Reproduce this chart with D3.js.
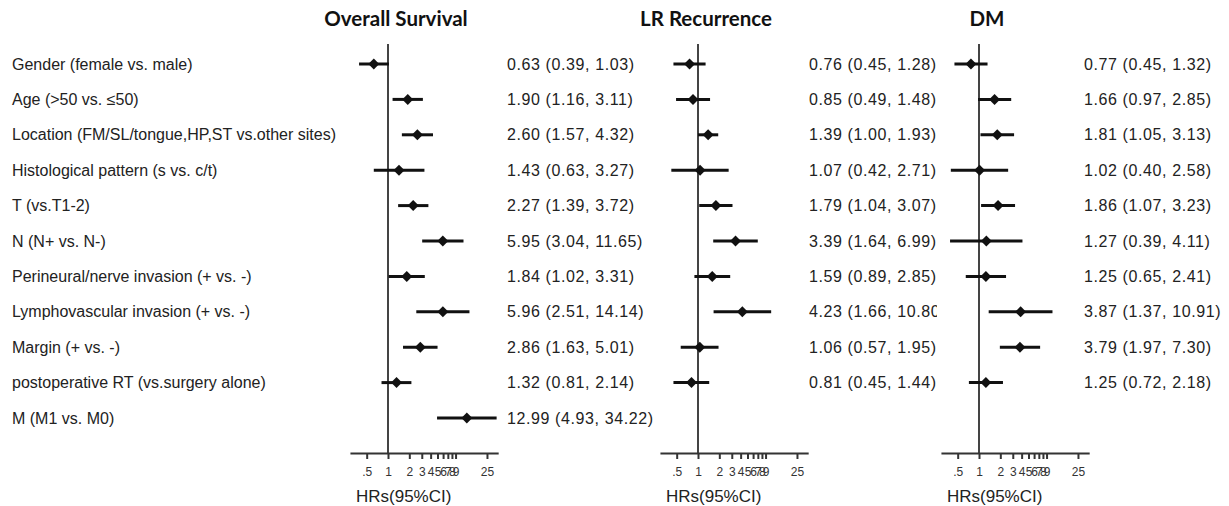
<!DOCTYPE html>
<html>
<head>
<meta charset="utf-8">
<script src="https://cdn.jsdelivr.net/npm/d3@7"></script>
<style>
body { margin: 0; background: #fff; }
</style>
</head>
<body>
<script>
var etiquetas = ["Gender (female vs. male)", "Age (>50 vs. \u226450)", "Location (FM/SL/tongue,HP,ST vs.other sites)",
    "Histological pattern (s vs. c/t)", "T (vs.T1-2)", "N  (N+ vs. N-)", "Perineural/nerve invasion (+ vs. -)",
    "Lymphovascular invasion (+ vs. -)", "Margin (+ vs. -)", "postoperative RT (vs.surgery alone)", "M (M1 vs. M0)"];
var titulos = ["Overall Survival", "LR Recurrence", "DM"];

var osHR = [0.63, 1.90, 2.60, 1.43, 2.27, 5.95, 1.84, 5.96, 2.86, 1.32, 12.99];
var osLo = [0.39, 1.16, 1.57, 0.63, 1.39, 3.04, 1.02, 2.51, 1.63, 0.81, 4.93];
var osHi = [1.03, 3.11, 4.32, 3.27, 3.72, 11.65, 3.31, 14.14, 5.01, 2.14, 34.22];

var lrHR = [0.76, 0.85, 1.39, 1.07, 1.79, 3.39, 1.59, 4.23, 1.06, 0.81, null];
var lrLo = [0.45, 0.49, 1.00, 0.42, 1.04, 1.64, 0.89, 1.66, 0.57, 0.45, null];
var lrHi = [1.28, 1.48, 1.93, 2.71, 3.07, 6.99, 2.85, 10.80, 1.95, 1.44, null];

var dmHR = [0.77, 1.66, 1.81, 1.02, 1.86, 1.27, 1.25, 3.87, 3.79, 1.25, null];
var dmLo = [0.45, 0.97, 1.05, 0.40, 1.07, 0.39, 0.65, 1.37, 1.97, 0.72, null];
var dmHi = [1.32, 2.85, 3.13, 2.58, 3.23, 4.11, 2.41, 10.91, 7.30, 2.18, null];

var ticks = [0.5, 1, 2, 3, 4, 5, 6, 7, 8, 9, 25];
var tickEtiquetas = [".5", "1", "2", "3", "4", "5", "6", "7", "8", "9", "25"];
var ejeTitulo = "HRs(95%CI)";

function dibujar() {
    var svg = d3.select('body').append('svg').attr('width', 1229).attr('height', 506);
    var fuente = "'Liberation Sans', Arial, sans-serif";
    var k = 70.8; // px por decada
    var yEje = 453;

    var y = d3.scalePoint().domain(d3.range(etiquetas.length)).range([64, 418]);

    svg.append('g').selectAll('text').data(etiquetas).enter().append('text')
        .attr('x', 12).attr('y', (d, i) => y(i)).attr('dy', '0.35em')
        .attr('font-family', fuente).attr('font-size', 16).attr('fill', '#222')
        .text(d => d);

    var paneles = [
        { hr: osHR, lo: osLo, hi: osHi, x1: 388, xt: 507, clip: 670 },
        { hr: lrHR, lo: lrLo, hi: lrHi, x1: 698, xt: 809, clip: 937 },
        { hr: dmHR, lo: dmLo, hi: dmHi, x1: 979, xt: 1084, clip: 1229 }
    ];

    var defs = svg.append('defs');
    var diamante = d3.symbol().type(d3.symbolSquare).size(60);

    paneles.forEach(function (p, n) {
        var x = d3.scaleLog().domain([0.29, 36])
            .range([p.x1 + Math.log10(0.29) * k, p.x1 + Math.log10(36) * k]);
        var g = svg.append('g');

        // titulo
        g.append('text').attr('x', p.x1 + 8).attr('y', 26).attr('text-anchor', 'middle')
            .attr('font-family', "Lato, 'Open Sans', sans-serif").attr('font-weight', 'bold')
            .attr('font-size', 20.5).attr('fill', '#111').text(titulos[n]);

        // linea de referencia HR = 1
        g.append('line').attr('x1', x(1)).attr('x2', x(1)).attr('y1', 44).attr('y2', yEje)
            .attr('stroke', '#444').attr('stroke-width', 2);

        // eje
        var eje = g.append('g').attr('transform', `translate(0,${yEje})`)
            .call(d3.axisBottom(x).tickValues(ticks).tickFormat((d, i) => tickEtiquetas[i])
                .tickSize(6).tickSizeOuter(0).tickPadding(8));
        eje.select('.domain').attr('stroke', '#333').attr('stroke-width', 2);
        eje.selectAll('.tick line').attr('stroke', '#333').attr('stroke-width', 2);
        eje.selectAll('.tick text').attr('font-family', fuente).attr('font-size', 12).attr('fill', '#333');

        g.append('text').attr('x', x(1) - 32).attr('y', 502)
            .attr('font-family', fuente).attr('font-size', 17).attr('fill', '#222').text(ejeTitulo);

        var filas = d3.range(p.hr.length).filter(i => p.hr[i] != null);

        // intervalos
        g.append('g').selectAll('line').data(filas).enter().append('line')
            .attr('x1', i => x(p.lo[i])).attr('x2', i => x(p.hi[i]))
            .attr('y1', i => y(i)).attr('y2', i => y(i))
            .attr('stroke', '#111').attr('stroke-width', 3);

        // puntos
        g.append('g').selectAll('path').data(filas).enter().append('path')
            .attr('d', diamante)
            .attr('transform', i => `translate(${x(p.hr[i])},${y(i)}) rotate(45)`)
            .attr('fill', '#111');

        // textos HR
        defs.append('clipPath').attr('id', 'recorte' + n).append('rect')
            .attr('x', 0).attr('y', 0).attr('width', p.clip).attr('height', 506);
        g.append('g').attr('clip-path', `url(#recorte${n})`).selectAll('text').data(filas).enter().append('text')
            .attr('x', p.xt).attr('y', i => y(i)).attr('dy', '0.35em')
            .attr('font-family', fuente).attr('font-size', 16).attr('letter-spacing', 0.6).attr('fill', '#222')
            .text(i => `${p.hr[i].toFixed(2)} (${p.lo[i].toFixed(2)}, ${p.hi[i].toFixed(2)})`);
    });
}
window.onload = dibujar;
</script>
</body>
</html>
